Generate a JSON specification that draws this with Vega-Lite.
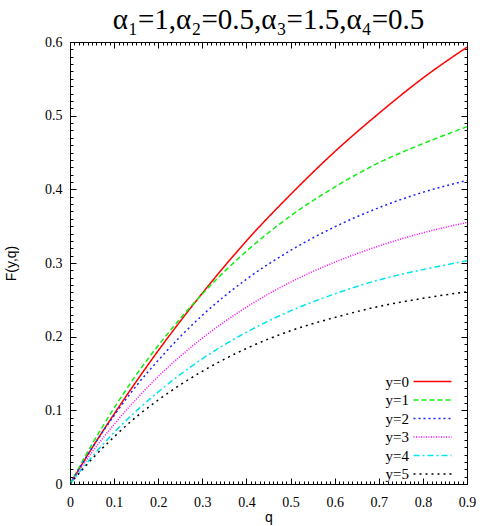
{
  "$schema": "https://vega.github.io/schema/vega-lite/v6.json",
  "width": 397,
  "height": 442,
  "autosize": {"type": "none"},
  "padding": {"left": 70, "top": 42, "right": 24, "bottom": 42},
  "background": "white",
  "title": {
    "text": "α₁=1,α₂=0.5,α₃=1.5,α₄=0.5",
    "font": "Liberation Serif, DejaVu Serif, serif",
    "fontSize": 29,
    "fontWeight": "normal",
    "color": "black",
    "anchor": "middle",
    "baseline": "alphabetic",
    "offset": -23
  },
  "data": {
    "values": [
      {"q": 0, "F": 0, "s": "y=0"}, {"q": 0.05, "F": 0.049, "s": "y=0"}, {"q": 0.1, "F": 0.095, "s": "y=0"}, {"q": 0.15, "F": 0.139, "s": "y=0"}, {"q": 0.2, "F": 0.181, "s": "y=0"}, {"q": 0.3, "F": 0.259, "s": "y=0"}, {"q": 0.4, "F": 0.33, "s": "y=0"}, {"q": 0.5, "F": 0.393, "s": "y=0"}, {"q": 0.6, "F": 0.451, "s": "y=0"}, {"q": 0.7, "F": 0.503, "s": "y=0"}, {"q": 0.8, "F": 0.551, "s": "y=0"}, {"q": 0.9, "F": 0.593, "s": "y=0"},
      {"q": 0, "F": 0, "s": "y=1"}, {"q": 0.05, "F": 0.054, "s": "y=1"}, {"q": 0.1, "F": 0.103, "s": "y=1"}, {"q": 0.15, "F": 0.148, "s": "y=1"}, {"q": 0.2, "F": 0.188, "s": "y=1"}, {"q": 0.3, "F": 0.258, "s": "y=1"}, {"q": 0.4, "F": 0.316, "s": "y=1"}, {"q": 0.5, "F": 0.364, "s": "y=1"}, {"q": 0.6, "F": 0.403, "s": "y=1"}, {"q": 0.7, "F": 0.436, "s": "y=1"}, {"q": 0.8, "F": 0.462, "s": "y=1"}, {"q": 0.9, "F": 0.485, "s": "y=1"},
      {"q": 0, "F": 0, "s": "y=2"}, {"q": 0.05, "F": 0.049, "s": "y=2"}, {"q": 0.1, "F": 0.093, "s": "y=2"}, {"q": 0.15, "F": 0.133, "s": "y=2"}, {"q": 0.2, "F": 0.168, "s": "y=2"}, {"q": 0.3, "F": 0.229, "s": "y=2"}, {"q": 0.4, "F": 0.278, "s": "y=2"}, {"q": 0.5, "F": 0.317, "s": "y=2"}, {"q": 0.6, "F": 0.349, "s": "y=2"}, {"q": 0.7, "F": 0.375, "s": "y=2"}, {"q": 0.8, "F": 0.396, "s": "y=2"}, {"q": 0.9, "F": 0.412, "s": "y=2"},
      {"q": 0, "F": 0, "s": "y=3"}, {"q": 0.05, "F": 0.043, "s": "y=3"}, {"q": 0.1, "F": 0.081, "s": "y=3"}, {"q": 0.15, "F": 0.115, "s": "y=3"}, {"q": 0.2, "F": 0.146, "s": "y=3"}, {"q": 0.3, "F": 0.198, "s": "y=3"}, {"q": 0.4, "F": 0.24, "s": "y=3"}, {"q": 0.5, "F": 0.274, "s": "y=3"}, {"q": 0.6, "F": 0.301, "s": "y=3"}, {"q": 0.7, "F": 0.323, "s": "y=3"}, {"q": 0.8, "F": 0.341, "s": "y=3"}, {"q": 0.9, "F": 0.355, "s": "y=3"},
      {"q": 0, "F": 0, "s": "y=4"}, {"q": 0.05, "F": 0.037, "s": "y=4"}, {"q": 0.1, "F": 0.07, "s": "y=4"}, {"q": 0.15, "F": 0.099, "s": "y=4"}, {"q": 0.2, "F": 0.125, "s": "y=4"}, {"q": 0.3, "F": 0.17, "s": "y=4"}, {"q": 0.4, "F": 0.206, "s": "y=4"}, {"q": 0.5, "F": 0.235, "s": "y=4"}, {"q": 0.6, "F": 0.258, "s": "y=4"}, {"q": 0.7, "F": 0.277, "s": "y=4"}, {"q": 0.8, "F": 0.291, "s": "y=4"}, {"q": 0.9, "F": 0.303, "s": "y=4"},
      {"q": 0, "F": 0, "s": "y=5"}, {"q": 0.05, "F": 0.034, "s": "y=5"}, {"q": 0.1, "F": 0.064, "s": "y=5"}, {"q": 0.15, "F": 0.091, "s": "y=5"}, {"q": 0.2, "F": 0.114, "s": "y=5"}, {"q": 0.3, "F": 0.153, "s": "y=5"}, {"q": 0.4, "F": 0.184, "s": "y=5"}, {"q": 0.5, "F": 0.208, "s": "y=5"}, {"q": 0.6, "F": 0.226, "s": "y=5"}, {"q": 0.7, "F": 0.241, "s": "y=5"}, {"q": 0.8, "F": 0.252, "s": "y=5"}, {"q": 0.9, "F": 0.261, "s": "y=5"}
    ]
  },
  "config": {
    "view": {"stroke": "black", "strokeWidth": 1},
    "axis": {
      "grid": false,
      "domainColor": "black",
      "domainWidth": 1,
      "tickColor": "black",
      "tickWidth": 1,
      "labelColor": "black",
      "labelFont": "Liberation Serif",
      "labelFontSize": 14,
      "labelOverlap": false,
      "labelFlush": false,
      "titleColor": "black",
      "titleFont": "Liberation Sans",
      "titleFontSize": 14,
      "titleFontWeight": "normal"
    }
  },
  "resolve": {"axis": {"x": "independent", "y": "independent"}},
  "layer": [
    {
      "mark": {"type": "line", "strokeWidth": 1.5, "interpolate": "monotone", "clip": true},
      "encoding": {
        "x": {
          "field": "q", "type": "quantitative",
          "scale": {"domain": [0, 0.9], "nice": false, "zero": false},
          "axis": {
            "title": "q",
            "titleY": 37,
            "titleBaseline": "alphabetic",
            "values": [0,0.01,0.02,0.03,0.04,0.05,0.06,0.07,0.08,0.09,0.1,0.11,0.12,0.13,0.14,0.15,0.16,0.17,0.18,0.19,0.2,0.21,0.22,0.23,0.24,0.25,0.26,0.27,0.28,0.29,0.3,0.31,0.32,0.33,0.34,0.35,0.36,0.37,0.38,0.39,0.4,0.41,0.42,0.43,0.44,0.45,0.46,0.47,0.48,0.49,0.5,0.51,0.52,0.53,0.54,0.55,0.56,0.57,0.58,0.59,0.6,0.61,0.62,0.63,0.64,0.65,0.66,0.67,0.68,0.69,0.7,0.71,0.72,0.73,0.74,0.75,0.76,0.77,0.78,0.79,0.8,0.81,0.82,0.83,0.84,0.85,0.86,0.87,0.88,0.89,0.9],
            "labelExpr": "abs(datum.value*10 - round(datum.value*10)) < 0.001 ? format(datum.value, '.1~f') : ''",
            "tickSize": {"condition": {"test": "abs(datum.value*10 - round(datum.value*10)) < 0.001", "value": -6}, "value": -3},
            "labelPadding": 17
          }
        },
        "y": {
          "field": "F", "type": "quantitative",
          "scale": {"domain": [0, 0.6], "nice": false},
          "axis": {
            "title": "F(y,q)",
            "titlePadding": 26,
            "values": [0,0.01,0.02,0.03,0.04,0.05,0.06,0.07,0.08,0.09,0.1,0.11,0.12,0.13,0.14,0.15,0.16,0.17,0.18,0.19,0.2,0.21,0.22,0.23,0.24,0.25,0.26,0.27,0.28,0.29,0.3,0.31,0.32,0.33,0.34,0.35,0.36,0.37,0.38,0.39,0.4,0.41,0.42,0.43,0.44,0.45,0.46,0.47,0.48,0.49,0.5,0.51,0.52,0.53,0.54,0.55,0.56,0.57,0.58,0.59,0.6],
            "labelExpr": "abs(datum.value*10 - round(datum.value*10)) < 0.001 ? format(datum.value, '.1~f') : ''",
            "tickSize": {"condition": {"test": "abs(datum.value*10 - round(datum.value*10)) < 0.001", "value": -6}, "value": -3},
            "labelPadding": 14
          }
        },
        "color": {
          "field": "s", "type": "nominal",
          "scale": {"domain": ["y=0","y=1","y=2","y=3","y=4","y=5"], "range": ["#ff0000","#11ee11","#2222ff","#ff00ff","#00e5ee","#000000"]},
          "legend": {"orient": "none", "legendX": 355, "legendY": 332, "title": null, "padding": 0, "symbolType": "M-9.5,0H9.5", "symbolSize": 16, "symbolStrokeWidth": 1.5, "labelOffset": -31, "labelAlign": "right", "labelFont": "Liberation Serif", "labelFontSize": 15, "labelColor": "black", "rowPadding": 2.5}
        },
        "strokeDash": {
          "field": "s", "type": "nominal",
          "scale": {"domain": ["y=0","y=1","y=2","y=3","y=4","y=5"], "range": [[1,0],[5,3],[2,3],[1,1.5],[6,3,2,3],[2,4]]},
          "legend": {"orient": "none", "legendX": 355, "legendY": 332, "title": null, "padding": 0, "symbolType": "M-9.5,0H9.5", "symbolSize": 16, "symbolStrokeWidth": 1.5, "labelOffset": -31, "labelAlign": "right", "labelFont": "Liberation Serif", "labelFontSize": 15, "labelColor": "black", "rowPadding": 2.5}
        }
      }
    },
    {
      "mark": {"type": "point", "opacity": 0},
      "encoding": {
        "x": {
          "field": "q", "type": "quantitative",
          "scale": {"domain": [0, 0.9], "nice": false, "zero": false},
          "axis": {
            "orient": "top", "title": null, "labels": false,
            "values": [0,0.01,0.02,0.03,0.04,0.05,0.06,0.07,0.08,0.09,0.1,0.11,0.12,0.13,0.14,0.15,0.16,0.17,0.18,0.19,0.2,0.21,0.22,0.23,0.24,0.25,0.26,0.27,0.28,0.29,0.3,0.31,0.32,0.33,0.34,0.35,0.36,0.37,0.38,0.39,0.4,0.41,0.42,0.43,0.44,0.45,0.46,0.47,0.48,0.49,0.5,0.51,0.52,0.53,0.54,0.55,0.56,0.57,0.58,0.59,0.6,0.61,0.62,0.63,0.64,0.65,0.66,0.67,0.68,0.69,0.7,0.71,0.72,0.73,0.74,0.75,0.76,0.77,0.78,0.79,0.8,0.81,0.82,0.83,0.84,0.85,0.86,0.87,0.88,0.89,0.9],
            "tickSize": {"condition": {"test": "abs(datum.value*10 - round(datum.value*10)) < 0.001", "value": -6}, "value": -3}
          }
        },
        "y": {
          "field": "F", "type": "quantitative",
          "scale": {"domain": [0, 0.6], "nice": false},
          "axis": {
            "orient": "right", "title": null, "labels": false,
            "values": [0,0.01,0.02,0.03,0.04,0.05,0.06,0.07,0.08,0.09,0.1,0.11,0.12,0.13,0.14,0.15,0.16,0.17,0.18,0.19,0.2,0.21,0.22,0.23,0.24,0.25,0.26,0.27,0.28,0.29,0.3,0.31,0.32,0.33,0.34,0.35,0.36,0.37,0.38,0.39,0.4,0.41,0.42,0.43,0.44,0.45,0.46,0.47,0.48,0.49,0.5,0.51,0.52,0.53,0.54,0.55,0.56,0.57,0.58,0.59,0.6],
            "tickSize": {"condition": {"test": "abs(datum.value*10 - round(datum.value*10)) < 0.001", "value": -6}, "value": -3}
          }
        }
      }
    }
  ]
}
